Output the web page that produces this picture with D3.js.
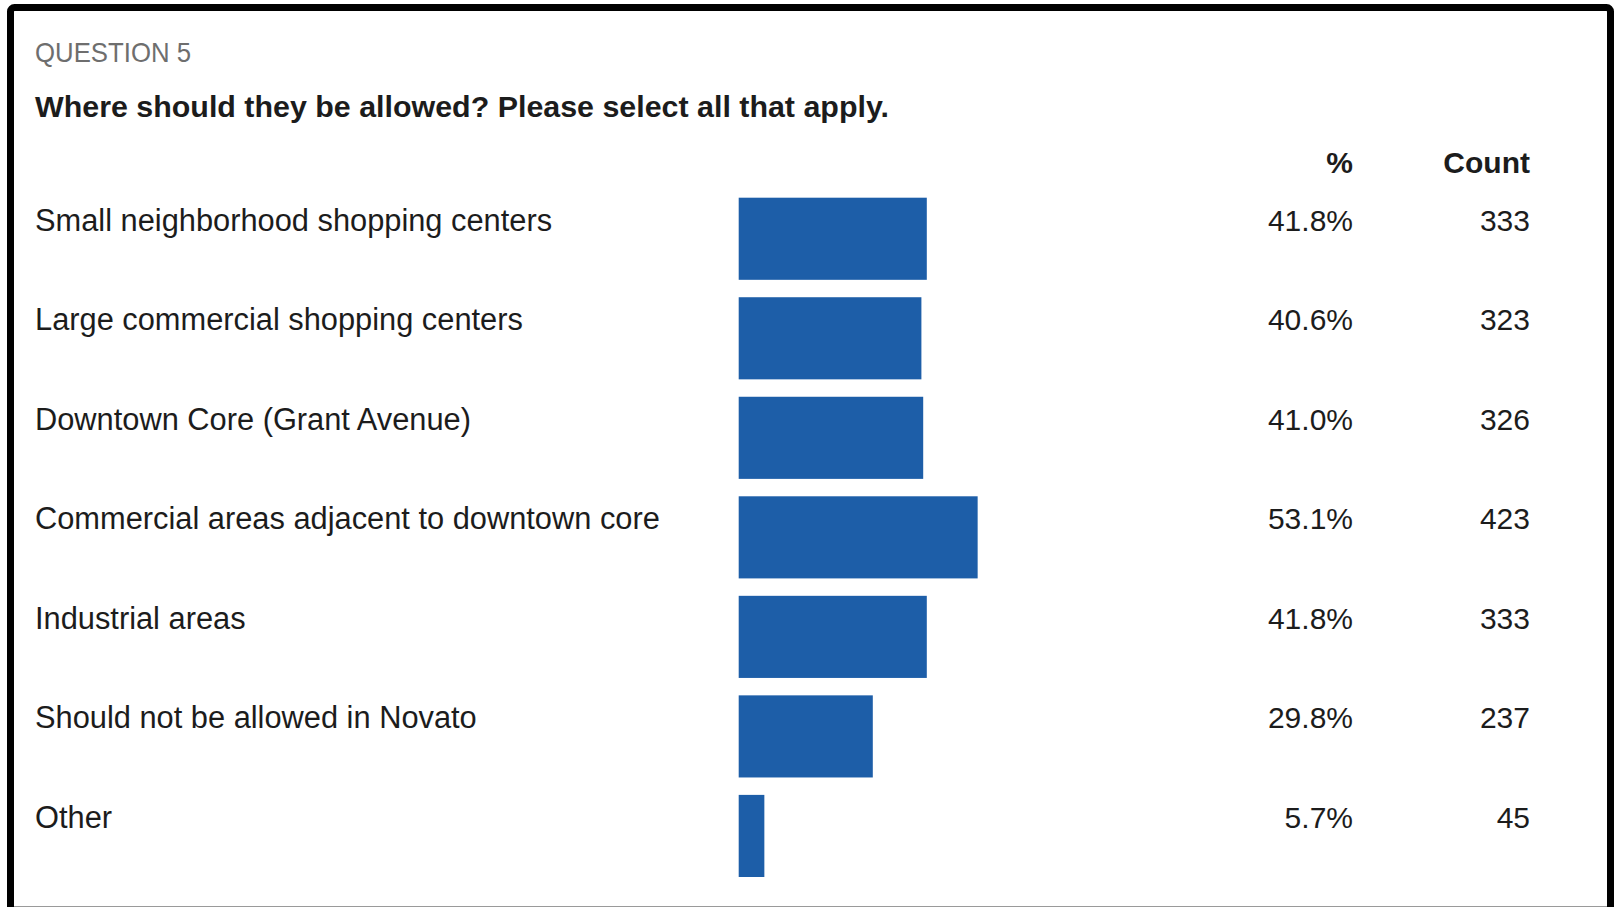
<!DOCTYPE html>
<html>
<head>
<meta charset="utf-8">
<script src="https://cdn.jsdelivr.net/npm/d3@7"></script>
<style>
  html, body { margin: 0; padding: 0; background: #fff; }
  svg { display: block; }
  text { font-family: "Liberation Sans", Arial, sans-serif; fill: #1c1c1c; }
</style>
</head>
<body>
<svg id="chart" width="1624" height="907"></svg>
<script>
// Survey question 5: allowed locations (multiple answers)
const categories = [
  "Small neighborhood shopping centers",
  "Large commercial shopping centers",
  "Downtown Core (Grant Avenue)",
  "Commercial areas adjacent to downtown core",
  "Industrial areas",
  "Should not be allowed in Novato",
  "Other"
];
const percents = [41.8, 40.6, 41.0, 53.1, 41.8, 29.8, 5.7];
const counts = [333, 323, 326, 423, 333, 237, 45];
const percentLabels = ["41.8%", "40.6%", "41.0%", "53.1%", "41.8%", "29.8%", "5.7%"];
const columnHeaders = ["%", "Count"];

const svg = d3.select("#chart");

// outer frame
svg.append("rect")
  .attr("x", 10.5).attr("y", 7.5)
  .attr("width", 1600).attr("height", 920)
  .attr("rx", 4)
  .attr("fill", "#fff")
  .attr("stroke", "#000")
  .attr("stroke-width", 7);

svg.append("line")
  .attr("x1", 14).attr("x2", 1607)
  .attr("y1", 906.5).attr("y2", 906.5)
  .attr("stroke", "#9a9a9a").attr("stroke-width", 1);

// heading
svg.append("text")
  .attr("x", 35).attr("y", 62)
  .attr("font-size", 28)
  .attr("textLength", 156)
  .attr("lengthAdjust", "spacingAndGlyphs")
  .style("fill", "#6e6e6e")
  .text("QUESTION 5");

svg.append("text")
  .attr("x", 35).attr("y", 117)
  .attr("font-size", 30.4)
  .attr("font-weight", "bold")
  .text("Where should they be allowed? Please select all that apply.");

// scales
const y = d3.scaleBand()
  .domain(categories)
  .range([197.7, 877])
  .paddingInner(0.175)
  .paddingOuter(0);

const x = d3.scaleLinear()
  .domain([0, 100])
  .range([738.7, 738.7 + 450]);

const pctRight = 1353, countRight = 1530;

// column headers
svg.append("text")
  .attr("x", pctRight).attr("y", 173)
  .attr("text-anchor", "end")
  .attr("font-size", 30).attr("font-weight", "bold")
  .text(columnHeaders[0]);
svg.append("text")
  .attr("x", countRight).attr("y", 173)
  .attr("text-anchor", "end")
  .attr("font-size", 30).attr("font-weight", "bold")
  .text(columnHeaders[1]);

const rows = svg.append("g").selectAll("g")
  .data(categories.map((c, i) => ({ c, p: percents[i], n: counts[i], pl: percentLabels[i] })))
  .join("g");

rows.append("rect")
  .attr("x", x(0))
  .attr("y", d => y(d.c))
  .attr("width", d => x(d.p) - x(0))
  .attr("height", y.bandwidth())
  .attr("fill", "#1d5ea8");

rows.append("text")
  .attr("x", 35)
  .attr("y", d => y(d.c) + 33)
  .attr("font-size", 30.8)
  .text(d => d.c);

rows.append("text")
  .attr("x", pctRight)
  .attr("y", d => y(d.c) + 33)
  .attr("text-anchor", "end")
  .attr("font-size", 30)
  .text(d => d.pl);

rows.append("text")
  .attr("x", countRight)
  .attr("y", d => y(d.c) + 33)
  .attr("text-anchor", "end")
  .attr("font-size", 30)
  .text(d => d.n);
</script>
</body>
</html>
